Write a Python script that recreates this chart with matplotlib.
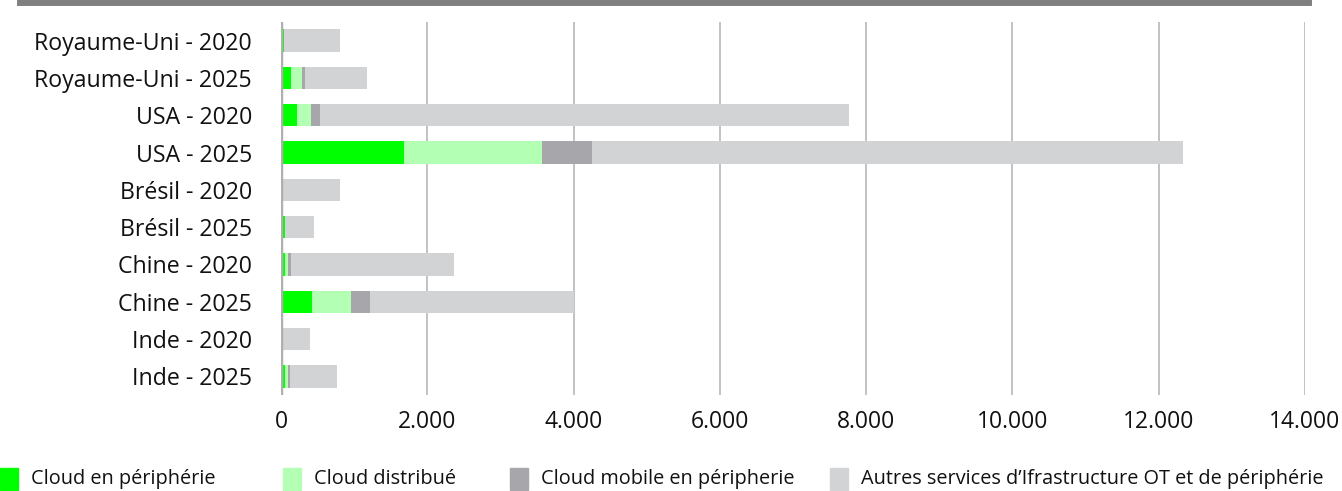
import numpy as np
import matplotlib.pyplot as plt
from matplotlib.patches import Rectangle
from matplotlib.lines import Line2D

plt.rcParams['font.family'] = ['Open Sans', 'DejaVu Sans']

categories = ["Royaume-Uni - 2020", "Royaume-Uni - 2025", "USA - 2020", "USA - 2025",
              "Brésil - 2020", "Brésil - 2025", "Chine - 2020", "Chine - 2025",
              "Inde - 2020", "Inde - 2025"]
cloud_edge = [40, 140, 220, 1680, 0, 55, 55, 425, 0, 55]
cloud_distrib = [5, 150, 190, 1890, 0, 0, 40, 535, 0, 40]
cloud_mobile = [0, 40, 125, 685, 0, 0, 40, 260, 0, 25]
autres = [765, 850, 7235, 8080, 810, 400, 2230, 2790, 400, 640]

series_names = ["Cloud en périphérie", "Cloud distribué", "Cloud mobile en péripherie",
                "Autres services d’Ifrastructure OT et de périphérie"]
colors = ["#00ff00", "#b3ffb3", "#a7a7ab", "#d2d3d5"]
xticks = [0, 2000, 4000, 6000, 8000, 10000, 12000, 14000]
xtick_labels = ["0", "2.000", "4.000", "6.000", "8.000", "10.000", "12.000", "14.000"]

fig = plt.figure(figsize=(13.42, 4.91), dpi=100)
ax = fig.add_axes([281 / 1342, 1 - 395 / 491, 1024 / 1342, 373 / 491])

y = np.arange(len(categories))
left = np.zeros(len(categories))
for vals, col in zip([cloud_edge, cloud_distrib, cloud_mobile, autres], colors):
    ax.barh(y, vals, left=left, height=0.6, color=col, zorder=3)
    left += np.array(vals)

ax.set_ylim(len(categories) - 0.5, -0.5)
ax.set_xlim(0, 14000)
ax.set_yticks(y)
ax.set_yticklabels(categories, fontsize=16.7, color="#111111")
ax.set_xticks(xticks)
ax.set_xticklabels(xtick_labels, fontsize=16.5, color="#111111")
ax.tick_params(axis="y", length=0, pad=21)
ax.tick_params(axis="x", length=0, pad=11)
ax.grid(axis="x", color="#bdbdbd", linewidth=1.3, zorder=0)
for s in ax.spines.values():
    s.set_visible(False)
ax.axvline(0, color="#b0b0b0", linewidth=2.5, zorder=4)

# top rule
fig.add_artist(Line2D([20 / 1342, 1308 / 1342], [1 - 2 / 491, 1 - 2 / 491],
                      color="#808080", linewidth=5, transform=fig.transFigure))

# legend
leg_x = [0, 283, 510, 830]
for lx, name, col in zip(leg_x, series_names, colors):
    fig.add_artist(Rectangle((lx / 1342, 1 - 490 / 491), 18 / 1342, 22 / 491,
                             color=col, transform=fig.transFigure))
    fig.text((lx + 31) / 1342, 1 - 479 / 491, name, fontsize=14.3, va="center",
             ha="left", color="#111111")

fig.savefig("out.png", dpi=100)
